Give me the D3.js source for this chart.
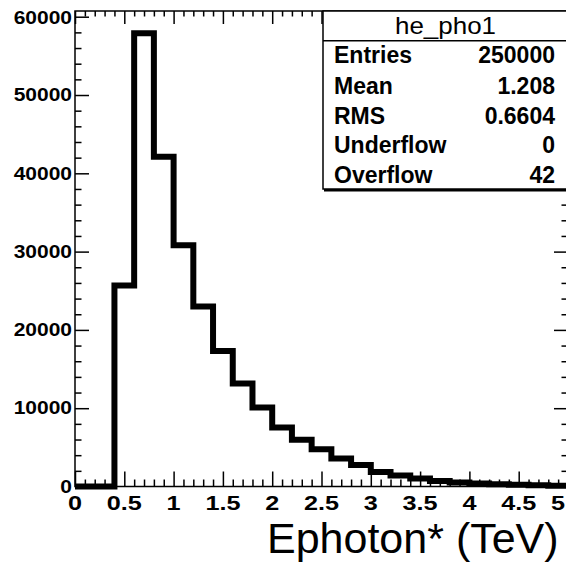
<!DOCTYPE html>
<html>
<head>
<meta charset="utf-8">
<script src="https://cdn.jsdelivr.net/npm/d3@7/dist/d3.min.js"></script>
<style>
  html, body { margin: 0; padding: 0; background: #fff; }
  svg { display: block; }
</style>
</head>
<body>
<svg id="chart" width="566" height="565"></svg>
<script>
// ---- data ----
const binStarts = [0, 0.2, 0.4, 0.6, 0.8, 1.0, 1.2, 1.4, 1.6, 1.8, 2.0, 2.2, 2.4,
                   2.6, 2.8, 3.0, 3.2, 3.4, 3.6, 3.8, 4.0, 4.2, 4.4, 4.6, 4.8];
const binEnd = 5;
const counts = [0, 0, 25670, 57880, 42100, 30800, 23000, 17300, 13150, 10090, 7535, 5960, 4750,
                3580, 2750, 1850, 1400, 1020, 700, 510, 380, 290, 220, 150, 110];
const xTickValues = [0, 0.5, 1, 1.5, 2, 2.5, 3, 3.5, 4, 4.5, 5];
const xTickLabels = ["0", "0.5", "1", "1.5", "2", "2.5", "3", "3.5", "4", "4.5", "5"];
const yTickValues = [0, 10000, 20000, 30000, 40000, 50000, 60000];
const yTickLabels = ["0", "10000", "20000", "30000", "40000", "50000", "60000"];
const statsTitle = "he_pho1";
const statsNames = ["Entries", "Mean", "RMS", "Underflow", "Overflow"];
const statsValues = ["250000", "1.208", "0.6604", "0", "42"];
const xTitle = "Ephoton* (TeV)";

// ---- layout ----
const svg = d3.select("#chart");
const X0 = 75, X1 = 568, Y0 = 486.5, Y1 = 11;
const x = d3.scaleLinear().domain([0, 5]).range([X0, X1]);
const y = d3.scaleLinear().domain([0, 60730]).range([Y0, Y1]);

const xMinor = d3.range(0, 50.5, 1).map(d => d / 10).filter(d => !xTickValues.includes(d));
const yMinor = d3.range(0, 61000, 2000).filter(d => d % 10000 !== 0 && y(d) >= Y1);

// frame
svg.append("rect").attr("x", X0).attr("y", Y1).attr("width", X1 - X0).attr("height", Y0 - Y1)
  .attr("fill", "none").attr("stroke", "#000").attr("stroke-width", 1.5);

// histogram outline
const pts = binStarts.map((s, i) => [s, counts[i]]);
pts.push([binEnd, counts[counts.length - 1]]);
const line = d3.line().x(d => x(d[0])).y(d => y(d[1])).curve(d3.curveStepAfter);
svg.append("path").attr("d", line(pts)).attr("fill", "none").attr("stroke", "#000")
  .attr("stroke-width", 6).attr("stroke-linejoin", "miter").attr("stroke-linecap", "butt");

// axes ticks (inward)
function ticks(axisGen, tx, ty) {
  const g = svg.append("g").attr("transform", `translate(${tx},${ty})`).call(axisGen);
  g.select(".domain").remove();
  g.selectAll("text").remove();
  g.selectAll("line").attr("stroke", "#000").attr("stroke-width", 1.5);
  return g;
}
ticks(d3.axisBottom(x).tickValues(xTickValues).tickSize(-15).tickFormat(""), 0, Y0);
ticks(d3.axisBottom(x).tickValues(xMinor).tickSize(-7).tickFormat(""), 0, Y0);
ticks(d3.axisTop(x).tickValues(xTickValues).tickSize(-13).tickFormat(""), 0, Y1);
ticks(d3.axisTop(x).tickValues(xMinor).tickSize(-5.5).tickFormat(""), 0, Y1);
ticks(d3.axisLeft(y).tickValues(yTickValues).tickSize(-14).tickFormat(""), X0, 0);
ticks(d3.axisLeft(y).tickValues(yMinor).tickSize(-6.5).tickFormat(""), X0, 0);
ticks(d3.axisRight(y).tickValues(yTickValues).tickSize(-14).tickFormat(""), X1, 0);
ticks(d3.axisRight(y).tickValues(yMinor).tickSize(-6.5).tickFormat(""), X1, 0);

// tick labels
const lblFont = "'Liberation Sans', Arial, Helvetica, sans-serif";
svg.append("g").selectAll("text").data(xTickValues).join("text")
  .attr("transform", d => `translate(${Math.min(x(d), 558)},${510}) scale(1.2,1)`)
  .attr("text-anchor", "middle").attr("font-family", lblFont).attr("font-weight", "bold")
  .attr("font-size", 21).attr("fill", "#000")
  .text((d, i) => xTickLabels[i]);
svg.append("g").selectAll("text").data(yTickValues).join("text")
  .attr("transform", d => `translate(${72},${Math.max(y(d), 18) + 6.2}) scale(1.2,1)`)
  .attr("text-anchor", "end").attr("font-family", lblFont).attr("font-weight", "bold")
  .attr("font-size", 17.5).attr("fill", "#000")
  .text((d, i) => yTickLabels[i]);

// axis title
svg.append("text").attr("x", 267).attr("y", 553)
  .attr("font-family", lblFont).attr("font-size", 43)
  .attr("fill", "#000").text(xTitle);

// stats box
const BX0 = 323, BX1 = 568, BY0 = 11, BY1 = 189;
svg.append("rect").attr("x", BX0 + 1).attr("y", BY1 - 1).attr("width", BX1 - BX0).attr("height", 3.5)
  .attr("fill", "#000");
svg.append("rect").attr("x", BX0).attr("y", BY0).attr("width", BX1 - BX0).attr("height", BY1 - BY0)
  .attr("fill", "#fff").attr("stroke", "#000").attr("stroke-width", 1.5);
svg.append("line").attr("x1", BX0).attr("x2", BX1).attr("y1", 40.7).attr("y2", 40.7)
  .attr("stroke", "#000").attr("stroke-width", 1.5);
svg.append("text").attr("x", (BX0 + BX1) / 2).attr("y", 33.5).attr("text-anchor", "middle")
  .attr("font-family", lblFont).attr("font-size", 24).attr("fill", "#000")
  .attr("textLength", 101).attr("lengthAdjust", "spacingAndGlyphs")
  .text(statsTitle);
const rowY = [63.3, 94.2, 123.5, 153.3, 183.2];
svg.append("g").selectAll("text").data(statsNames).join("text")
  .attr("x", 334).attr("y", (d, i) => rowY[i])
  .attr("font-family", lblFont).attr("font-weight", "bold").attr("font-size", 23).attr("fill", "#000")
  .text(d => d);
svg.append("g").selectAll("text").data(statsValues).join("text")
  .attr("x", 555).attr("y", (d, i) => rowY[i]).attr("text-anchor", "end")
  .attr("font-family", lblFont).attr("font-weight", "bold").attr("font-size", 23).attr("fill", "#000")
  .text(d => d);
</script>
</body>
</html>
